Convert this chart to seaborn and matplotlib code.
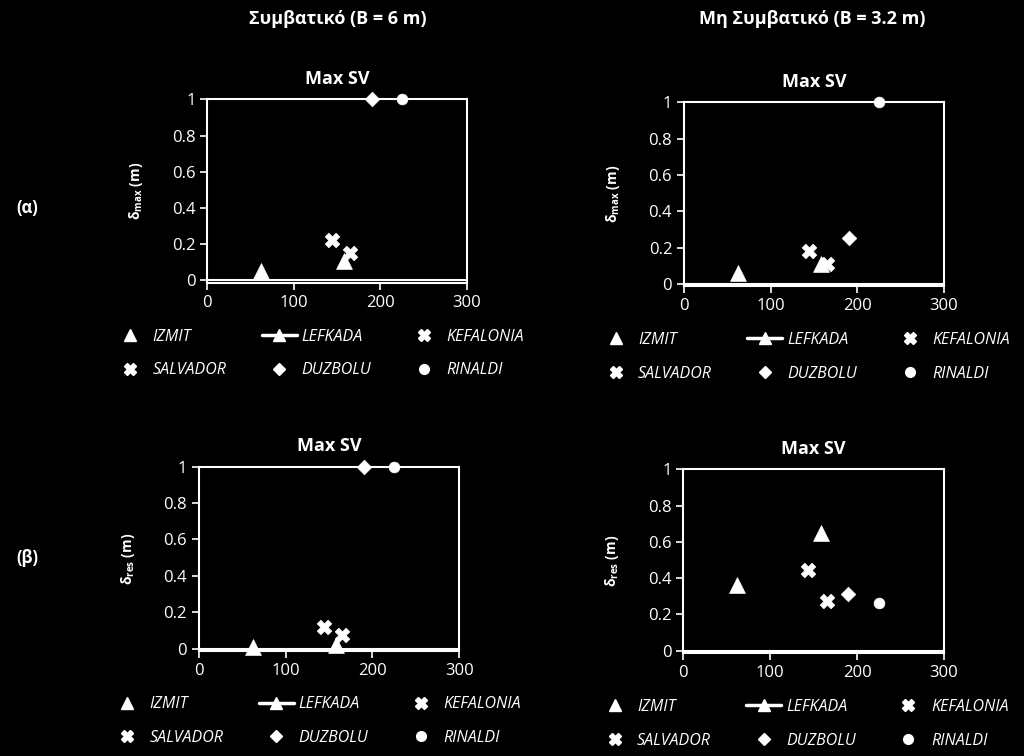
import matplotlib
matplotlib.use("Agg")
import matplotlib.pyplot as plt
from matplotlib.lines import Line2D
import seaborn as sns
import pandas as pd

# ---- data ----
sites = ["IZMIT", "LEFKADA", "KEFALONIA", "SALVADOR", "DUZBOLU", "RINALDI"]
max_sv = [62, 158, 165, 144, 190, 225]

conv_dmax = [0.055, 0.108, 0.154, 0.224, 1.0, 1.0]       # (α) Συμβατικό
nonconv_dmax = [0.059, 0.11, 0.11, 0.183, 0.251, 1.0]    # (α) Μη Συμβατικό
conv_dres = [0.011, 0.02, 0.075, 0.121, 1.0, 1.0]        # (β) Συμβατικό
nonconv_dres = [0.362, 0.651, 0.276, 0.445, 0.3125, 0.261]  # (β) Μη Συμβατικό

col_titles = ["Συμβατικό (B = 6 m)", "Μη Συμβατικό (B = 3.2 m)"]
row_labels = ["(α)", "(β)"]
panel_title = "Max SV"
ylabels = [r"$\mathregular{δ_{max}}$ (m)", r"$\mathregular{δ_{res}}$ (m)"]
xticks = [0, 100, 200, 300]
yticks = [0, 0.2, 0.4, 0.6, 0.8, 1.0]
ytick_labels = ["0", "0.2", "0.4", "0.6", "0.8", "1"]

markers = {"IZMIT": "^", "LEFKADA": "^", "KEFALONIA": "X", "SALVADOR": "X",
           "DUZBOLU": "D", "RINALDI": "o"}
sizes = {"IZMIT": 130, "LEFKADA": 130, "KEFALONIA": 110, "SALVADOR": 110,
         "DUZBOLU": 55, "RINALDI": 60}

sns.set_theme(style="dark")
plt.rcParams["font.family"] = ["Open Sans", "DejaVu Sans"]
plt.rcParams["mathtext.fontset"] = "custom"
plt.rcParams["mathtext.rm"] = "Open Sans"

fig = plt.figure(figsize=(10.24, 7.56), dpi=100, facecolor="black")

positions = [
    [0.2024, 0.6261, 0.2534, 0.2426],
    [0.6680, 0.6217, 0.2539, 0.2430],
    [0.1940, 0.1393, 0.2545, 0.2434],
    [0.6673, 0.1366, 0.2546, 0.2426],
]
datasets = [conv_dmax, nonconv_dmax, conv_dres, nonconv_dres]
legend_centers = [(0.311, 0.5325), (0.785, 0.528), (0.308, 0.046), (0.784, 0.0427)]

order = ["IZMIT", "SALVADOR", "LEFKADA", "DUZBOLU", "KEFALONIA", "RINALDI"]

for i, (pos, vals) in enumerate(zip(positions, datasets)):
    ax = fig.add_axes(pos)
    ax.set_facecolor("black")
    df = pd.DataFrame({"site": sites, "sv": max_sv, "d": vals})
    for _, r in df.iterrows():
        sns.scatterplot(x=[r["sv"]], y=[r["d"]], marker=markers[r["site"]],
                        s=sizes[r["site"]], color="white", edgecolor="white",
                        linewidth=0.5, ax=ax, clip_on=False, zorder=5)
    ax.set_xlim(0, 300)
    ax.set_ylim(-0.012, 1.0)
    ax.axhline(0, color="white", lw=1.5, zorder=3)
    ax.set_xticks(xticks)
    ax.set_yticks(yticks)
    ax.set_yticklabels(ytick_labels)
    ax.tick_params(axis="both", colors="white", labelcolor="white", labelsize=12,
                   direction="out", length=5, width=1.2, bottom=True, left=True)
    ax.tick_params(axis="x", pad=4)
    for sp in ax.spines.values():
        sp.set_color("white")
        sp.set_linewidth(1.5)
        sp.set_visible(True)
    ax.grid(False)
    ax.set_xlabel("")
    ax.set_ylabel(ylabels[i // 2], color="white", fontsize=10, fontweight="bold",
                  labelpad=19)
    ax.set_title(panel_title, color="white", fontsize=13, fontweight="bold", pad=11)

    handles = {}
    for s in sites:
        if s == "LEFKADA":
            handles[s] = Line2D([], [], color="white", lw=2.5, marker="^",
                                markersize=9, markerfacecolor="white",
                                markeredgecolor="white")
        else:
            ms = {"^": 9, "X": 8.5, "D": 6.5, "o": 7}[markers[s]]
            handles[s] = Line2D([], [], color="white", lw=0, marker=markers[s],
                                markersize=ms, markerfacecolor="white",
                                markeredgecolor="white")
    leg = ax.legend([handles[s] for s in order], order, ncol=3, loc="center",
                    bbox_to_anchor=legend_centers[i], bbox_transform=fig.transFigure,
                    frameon=False, handlelength=2.2, handletextpad=0.3,
                    columnspacing=2.2, labelspacing=1.1,
                    prop={"size": 11.5, "style": "italic"})
    for t in leg.get_texts():
        t.set_color("white")

fig.text(0.330, 0.975, col_titles[0], color="white", fontsize=13,
         fontweight="bold", ha="center", va="center")
fig.text(0.793, 0.975, col_titles[1], color="white", fontsize=13,
         fontweight="bold", ha="center", va="center")
fig.text(0.027, 1 - 208 / 756, row_labels[0], color="white", fontsize=12,
         fontweight="bold", ha="center", va="center")
fig.text(0.027, 1 - 558 / 756, row_labels[1], color="white", fontsize=12,
         fontweight="bold", ha="center", va="center")

fig.savefig("out.png", dpi=100, facecolor="black")
